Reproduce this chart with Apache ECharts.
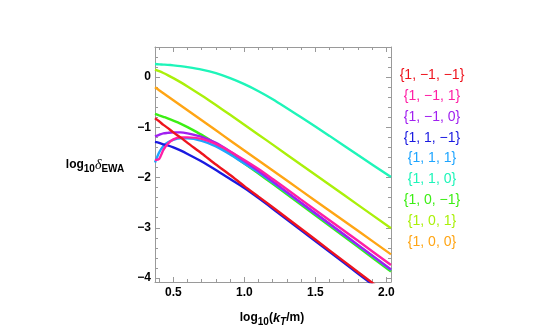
<!DOCTYPE html>
<html>
<head>
<meta charset="utf-8">
<script src="https://cdn.jsdelivr.net/npm/echarts@6/dist/echarts.min.js"></script>
<style>
  html, body { margin: 0; padding: 0; background: #fff; }
  #main { width: 548px; height: 329px; }
</style>
</head>
<body>
<div id="main"></div>
<script>
// x samples, log10(kT/m)
var xs = [0.371, 0.40, 0.43, 0.46, 0.50, 0.55, 0.60, 0.70, 0.80, 0.90, 1.00, 1.10, 1.20, 1.40, 1.60, 1.80, 2.033];

// legend labels / colours (legend order)
var names  = ['{1, −1, −1}', '{1, −1, 1}', '{1, −1, 0}', '{1, 1, −1}', '{1, 1, 1}', '{1, 1, 0}', '{1, 0, −1}', '{1, 0, 1}', '{1, 0, 0}'];
var colors = ['#ee141e', '#ff1fa5', '#a020f0', '#1a1ae0', '#1ea5ff', '#1ef5b9', '#3cee14', '#aaf00a', '#ffa514'];

// log10 delta_EWA for each curve
var yMM  = [-0.82, -0.88, -0.95, -1.01, -1.10, -1.20, -1.31, -1.52, -1.74, -1.95, -2.17, -2.38, -2.59, -3.02, -3.45, -3.88, -4.38];
var yMP  = [-1.65, -1.63, -1.45, -1.33, -1.24, -1.20, -1.20, -1.23, -1.33, -1.48, -1.65, -1.83, -2.03, -2.44, -2.85, -3.26, -3.74];
var yM0  = [-1.18, -1.15, -1.12, -1.11, -1.10, -1.10, -1.12, -1.19, -1.31, -1.48, -1.67, -1.87, -2.08, -2.50, -2.92, -3.34, -3.83];
var yPM  = [-1.29, -1.31, -1.34, -1.36, -1.40, -1.46, -1.53, -1.68, -1.85, -2.03, -2.21, -2.41, -2.62, -3.05, -3.48, -3.91, -4.41];
var yPP  = [-1.70, -1.50, -1.37, -1.30, -1.25, -1.22, -1.22, -1.27, -1.38, -1.54, -1.72, -1.90, -2.10, -2.51, -2.93, -3.35, -3.84];
var yP0  = [0.26, 0.255, 0.25, 0.245, 0.235, 0.22, 0.20, 0.15, 0.08, -0.02, -0.14, -0.28, -0.44, -0.80, -1.17, -1.55, -1.99];
var y0M  = [-0.73, -0.76, -0.79, -0.82, -0.865, -0.925, -0.995, -1.15, -1.33, -1.52, -1.72, -1.92, -2.125, -2.54, -2.96, -3.38, -3.87];
var y0P  = [0.150, 0.119, 0.082, 0.041, -0.019, -0.099, -0.185, -0.366, -0.556, -0.751, -0.948, -1.146, -1.344, -1.744, -2.144, -2.544, -3.01];
var y00  = [-0.20, -0.26, -0.32, -0.38, -0.46, -0.56, -0.66, -0.86, -1.06, -1.26, -1.46, -1.66, -1.86, -2.26, -2.66, -3.06, -3.53];
var curves = [yMM, yMP, yM0, yPM, yPP, yP0, y0M, y0P, y00];

// ticks
var xMajor = [0.5, 1.0, 1.5, 2.0];
var xMinor = [0.4, 0.6, 0.7, 0.8, 0.9, 1.1, 1.2, 1.3, 1.4, 1.6, 1.7, 1.8, 1.9];
var yMajor = [-4, -3, -2, -1, 0];
var yMinor = [-3.8, -3.6, -3.4, -3.2, -2.8, -2.6, -2.4, -2.2, -1.8, -1.6, -1.4, -1.2, -0.8, -0.6, -0.4, -0.2, 0.2, 0.4];

var X_MIN = 0.371, X_MAX = 2.033, Y_MIN = -4.08, Y_MAX = 0.6;
var frameColor = '#9a9a9a';
var labelFont = { color: '#000', fontSize: 12, fontWeight: 'bold', fontFamily: 'Liberation Sans' };

function xAx(pos, vals, len, line, labels) {
    return {
        type: 'value', min: X_MIN, max: X_MAX, position: pos,
        axisLine: { show: line, onZero: false, lineStyle: { color: frameColor, width: 1 } },
        axisTick: { show: true, inside: true, length: len, customValues: vals, lineStyle: { color: frameColor } },
        axisLabel: labels ? Object.assign({ customValues: vals, margin: 5, formatter: function (v) { return v.toFixed(1); } }, labelFont) : { show: false },
        splitLine: { show: false }
    };
}
function yAx(pos, vals, len, line, labels) {
    return {
        type: 'value', min: Y_MIN, max: Y_MAX, position: pos,
        axisLine: { show: line, onZero: false, lineStyle: { color: frameColor, width: 1 } },
        axisTick: { show: true, inside: true, length: len, customValues: vals, lineStyle: { color: frameColor } },
        axisLabel: labels ? Object.assign({ customValues: vals, margin: 4, formatter: function (v) { return String(v).replace('-', '−'); } }, labelFont) : { show: false },
        splitLine: { show: false }
    };
}

// draw in reverse so the first legend entry ends up on top
var series = [];
for (var i = curves.length - 1; i >= 0; i--) {
    series.push({
        name: names[i],
        type: 'line',
        xAxisIndex: 0,
        yAxisIndex: 0,
        data: xs.map(function (x, k) { return [x, this[k]]; }, curves[i]),
        smooth: 0.25,
        showSymbol: false,
        symbol: 'none',
        clip: true,
        lineStyle: { color: colors[i], width: 2.4 },
        itemStyle: { color: colors[i] },
        animation: false
    });
}

var legendText = names.map(function (n, i) {
    return {
        type: 'text', x: 432, y: 75 + i * 20.9,
        style: { text: n, fill: colors[i], font: '14px "Liberation Sans"', align: 'center', verticalAlign: 'middle' }
    };
});

var chart = echarts.init(document.getElementById('main'));
chart.setOption({
    backgroundColor: '#fff',
    animation: false,
    grid: { left: 155, right: 157, top: 47, bottom: 47, containLabel: false, outerBoundsMode: 'none' },
    xAxis: [
        xAx('bottom', xMajor, 5, true, true),
        xAx('bottom', xMinor, 3, false, false),
        xAx('top', xMajor, 5, true, false),
        xAx('top', xMinor, 3, false, false)
    ],
    yAxis: [
        yAx('left', yMajor, 5, true, true),
        yAx('left', yMinor, 3, false, false),
        yAx('right', yMajor, 5, true, false),
        yAx('right', yMinor, 3, false, false)
    ],
    series: series,
    graphic: legendText.concat([
        {
            type: 'text', x: 95, y: 165,
            style: {
                text: '{b|log}{s|10}{d|δ}{s|EWA}',
                align: 'center', verticalAlign: 'middle',
                rich: {
                    b: { fontSize: 12, fontWeight: 'bold', fontFamily: 'Liberation Sans', lineHeight: 18, fill: '#000' },
                    s: { fontSize: 10, fontWeight: 'bold', fontFamily: 'Liberation Sans', verticalAlign: 'bottom', fill: '#000' },
                    d: { fontSize: 14, fontStyle: 'italic', fontFamily: 'Liberation Serif', lineHeight: 18, fill: '#000' }
                }
            }
        },
        {
            type: 'text', x: 272, y: 318,
            style: {
                text: '{b|log}{s|10}{b|(}{i|k}{si|T}{b|/m)}',
                align: 'center', verticalAlign: 'middle',
                rich: {
                    b: { fontSize: 12, fontWeight: 'bold', fontFamily: 'Liberation Sans', lineHeight: 18, fill: '#000' },
                    s: { fontSize: 10, fontWeight: 'bold', fontFamily: 'Liberation Sans', verticalAlign: 'bottom', fill: '#000' },
                    i: { fontSize: 13, fontWeight: 'bold', fontStyle: 'italic', fontFamily: 'Liberation Sans', lineHeight: 18, fill: '#000' },
                    si: { fontSize: 10, fontWeight: 'bold', fontStyle: 'italic', fontFamily: 'Liberation Sans', verticalAlign: 'bottom', fill: '#000' }
                }
            }
        }
    ])
});
</script>
</body>
</html>
